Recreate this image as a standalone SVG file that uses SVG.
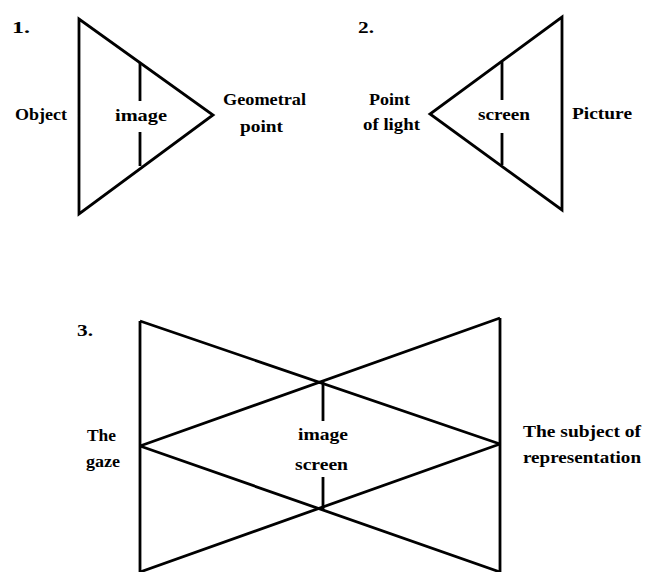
<svg xmlns="http://www.w3.org/2000/svg" width="645" height="572" viewBox="0 0 645 572">
<style>
.ln{stroke:#000;stroke-width:2.8;fill:none;stroke-linejoin:miter;stroke-linecap:butt}
.t{font-family:"Liberation Serif","Times New Roman",serif;font-weight:bold;font-size:17px;fill:#000}
.m{text-anchor:middle}
</style>
<rect width="645" height="572" fill="#fff"/>
<g id="connectors">
<path class="ln" d="M79,19 L79,214 L213,115 Z"/>
<path class="ln" d="M140,63 L140,101 M140,132 L140,166"/>
<path class="ln" d="M562,17 L562,210 L430,114 Z"/>
<path class="ln" d="M502,62 L502,100 M502,133 L502,165"/>
<path class="ln" d="M140,321 L140,572 M500,318 L500,572"/>
<path class="ln" d="M140,321 L500,444 M140,446 L500,318 M140,446 L500,572 M140,572 L500,444"/>
<path class="ln" d="M323,382 L323,421 M323,477 L323,510"/>
</g>
<g id="label-1"><text class="t" x="12" y="33" textLength="18" lengthAdjust="spacingAndGlyphs">1.</text></g>
<g id="object"><text class="t" x="15" y="120" textLength="52" lengthAdjust="spacingAndGlyphs">Object</text></g>
<g id="image1"><text class="t" x="115" y="121" textLength="52" lengthAdjust="spacingAndGlyphs">image</text></g>
<g id="geometral"><text class="t" x="223" y="105" textLength="83" lengthAdjust="spacingAndGlyphs">Geometral</text><text class="t" x="240" y="132" textLength="43" lengthAdjust="spacingAndGlyphs">point</text></g>
<g id="label-2"><text class="t" x="358" y="33" textLength="16" lengthAdjust="spacingAndGlyphs">2.</text></g>
<g id="point-of-light"><text class="t" x="369" y="105" textLength="41" lengthAdjust="spacingAndGlyphs">Point</text><text class="t" x="363" y="130" textLength="57" lengthAdjust="spacingAndGlyphs">of light</text></g>
<g id="screen2"><text class="t" x="478" y="120" textLength="52" lengthAdjust="spacingAndGlyphs">screen</text></g>
<g id="picture"><text class="t" x="572" y="119" textLength="60" lengthAdjust="spacingAndGlyphs">Picture</text></g>
<g id="label-3"><text class="t" x="77" y="336" textLength="16" lengthAdjust="spacingAndGlyphs">3.</text></g>
<g id="gaze"><text class="t" x="87" y="441" textLength="29" lengthAdjust="spacingAndGlyphs">The</text><text class="t" x="86" y="467" textLength="34" lengthAdjust="spacingAndGlyphs">gaze</text></g>
<g id="image-screen"><text class="t" x="298" y="440" textLength="50" lengthAdjust="spacingAndGlyphs">image</text><text class="t" x="295" y="470" textLength="53" lengthAdjust="spacingAndGlyphs">screen</text></g>
<g id="subject"><text class="t" x="523" y="437" textLength="118" lengthAdjust="spacingAndGlyphs">The subject of</text><text class="t" x="523" y="463" textLength="118" lengthAdjust="spacingAndGlyphs">representation</text></g>
</svg>
